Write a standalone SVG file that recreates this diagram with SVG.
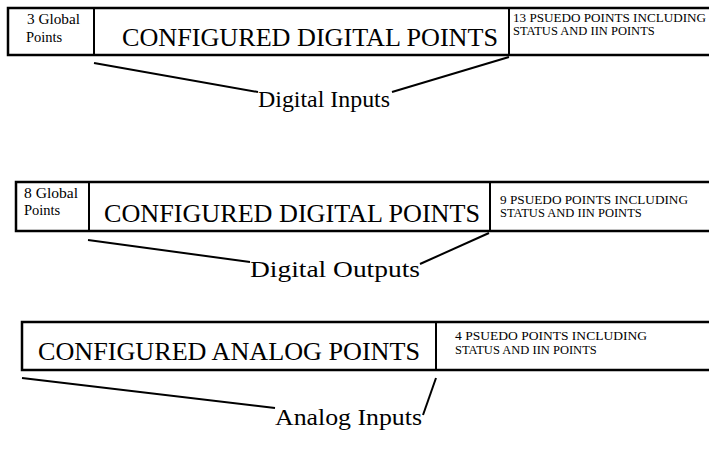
<svg xmlns="http://www.w3.org/2000/svg" width="709" height="453" viewBox="0 0 709 453">
  <style>
    .box { fill: #fff; stroke: #000; stroke-width: 2.5; }
    .div { stroke: #000; stroke-width: 2; }
    .lead { stroke: #000; stroke-width: 2; fill: none; }
    text { font-family: "Liberation Serif", "Times New Roman", serif; fill: #000; }
    .big { font-size: 26px; }
    .small { font-size: 14.5px; }
    .tiny { font-size: 12.5px; }
    .label { font-size: 24px; }
  </style>
  <rect width="709" height="453" fill="#fff"/>

  <!-- Digital inputs table -->
  <g id="digital-inputs-table">
    <rect class="box" x="8" y="8" width="710" height="47"/>
    <line class="div" x1="94" y1="8" x2="94" y2="55"/>
    <line class="div" x1="509" y1="8" x2="509" y2="55"/>
    <text class="small" x="27" y="24" textLength="53" lengthAdjust="spacingAndGlyphs">3 Global</text>
    <text class="small" x="26" y="42">Points</text>
    <text class="big" x="122" y="46" textLength="376" lengthAdjust="spacingAndGlyphs">CONFIGURED DIGITAL POINTS</text>
    <text class="tiny" x="513" y="22" textLength="193" lengthAdjust="spacingAndGlyphs">13 PSUEDO POINTS INCLUDING</text>
    <text class="tiny" x="513" y="35">STATUS AND IIN POINTS</text>
  </g>
  <g id="digital-inputs-label">
    <text class="label" x="258" y="107" textLength="132" lengthAdjust="spacingAndGlyphs">Digital Inputs</text>
  </g>

  <!-- Digital outputs table -->
  <g id="digital-outputs-table">
    <rect class="box" x="16" y="182" width="702" height="49"/>
    <line class="div" x1="89" y1="182" x2="89" y2="231"/>
    <line class="div" x1="490" y1="182" x2="490" y2="231"/>
    <text class="small" x="24" y="198" textLength="54" lengthAdjust="spacingAndGlyphs">8 Global</text>
    <text class="small" x="24" y="215">Points</text>
    <text class="big" x="104" y="222" textLength="376" lengthAdjust="spacingAndGlyphs">CONFIGURED DIGITAL POINTS</text>
    <text class="tiny" x="500" y="204" textLength="188" lengthAdjust="spacingAndGlyphs">9 PSUEDO POINTS INCLUDING</text>
    <text class="tiny" x="500" y="217">STATUS AND IIN POINTS</text>
  </g>
  <g id="digital-outputs-label">
    <text class="label" x="250" y="277" textLength="170" lengthAdjust="spacingAndGlyphs">Digital Outputs</text>
  </g>

  <!-- Analog inputs table -->
  <g id="analog-inputs-table">
    <rect class="box" x="22" y="322" width="696" height="48"/>
    <line class="div" x1="436" y1="322" x2="436" y2="370"/>
    <text class="big" x="38" y="360" textLength="382" lengthAdjust="spacingAndGlyphs">CONFIGURED ANALOG POINTS</text>
    <text class="tiny" x="455" y="340" textLength="192" lengthAdjust="spacingAndGlyphs">4  PSUEDO POINTS INCLUDING</text>
    <text class="tiny" x="455" y="354">STATUS AND IIN POINTS</text>
  </g>
  <g id="analog-inputs-label">
    <text class="label" x="275" y="425" textLength="147" lengthAdjust="spacingAndGlyphs">Analog Inputs</text>
  </g>

  <!-- leader lines from each table to its label -->
  <g id="connectors">
    <line class="lead" x1="94" y1="63" x2="258" y2="92"/>
    <line class="lead" x1="509" y1="57" x2="392" y2="92"/>
    <line class="lead" x1="88" y1="240" x2="250" y2="262"/>
    <line class="lead" x1="489" y1="233" x2="420" y2="264"/>
    <line class="lead" x1="22" y1="378" x2="275" y2="408"/>
    <line class="lead" x1="436" y1="378" x2="423" y2="415"/>
  </g>
</svg>
